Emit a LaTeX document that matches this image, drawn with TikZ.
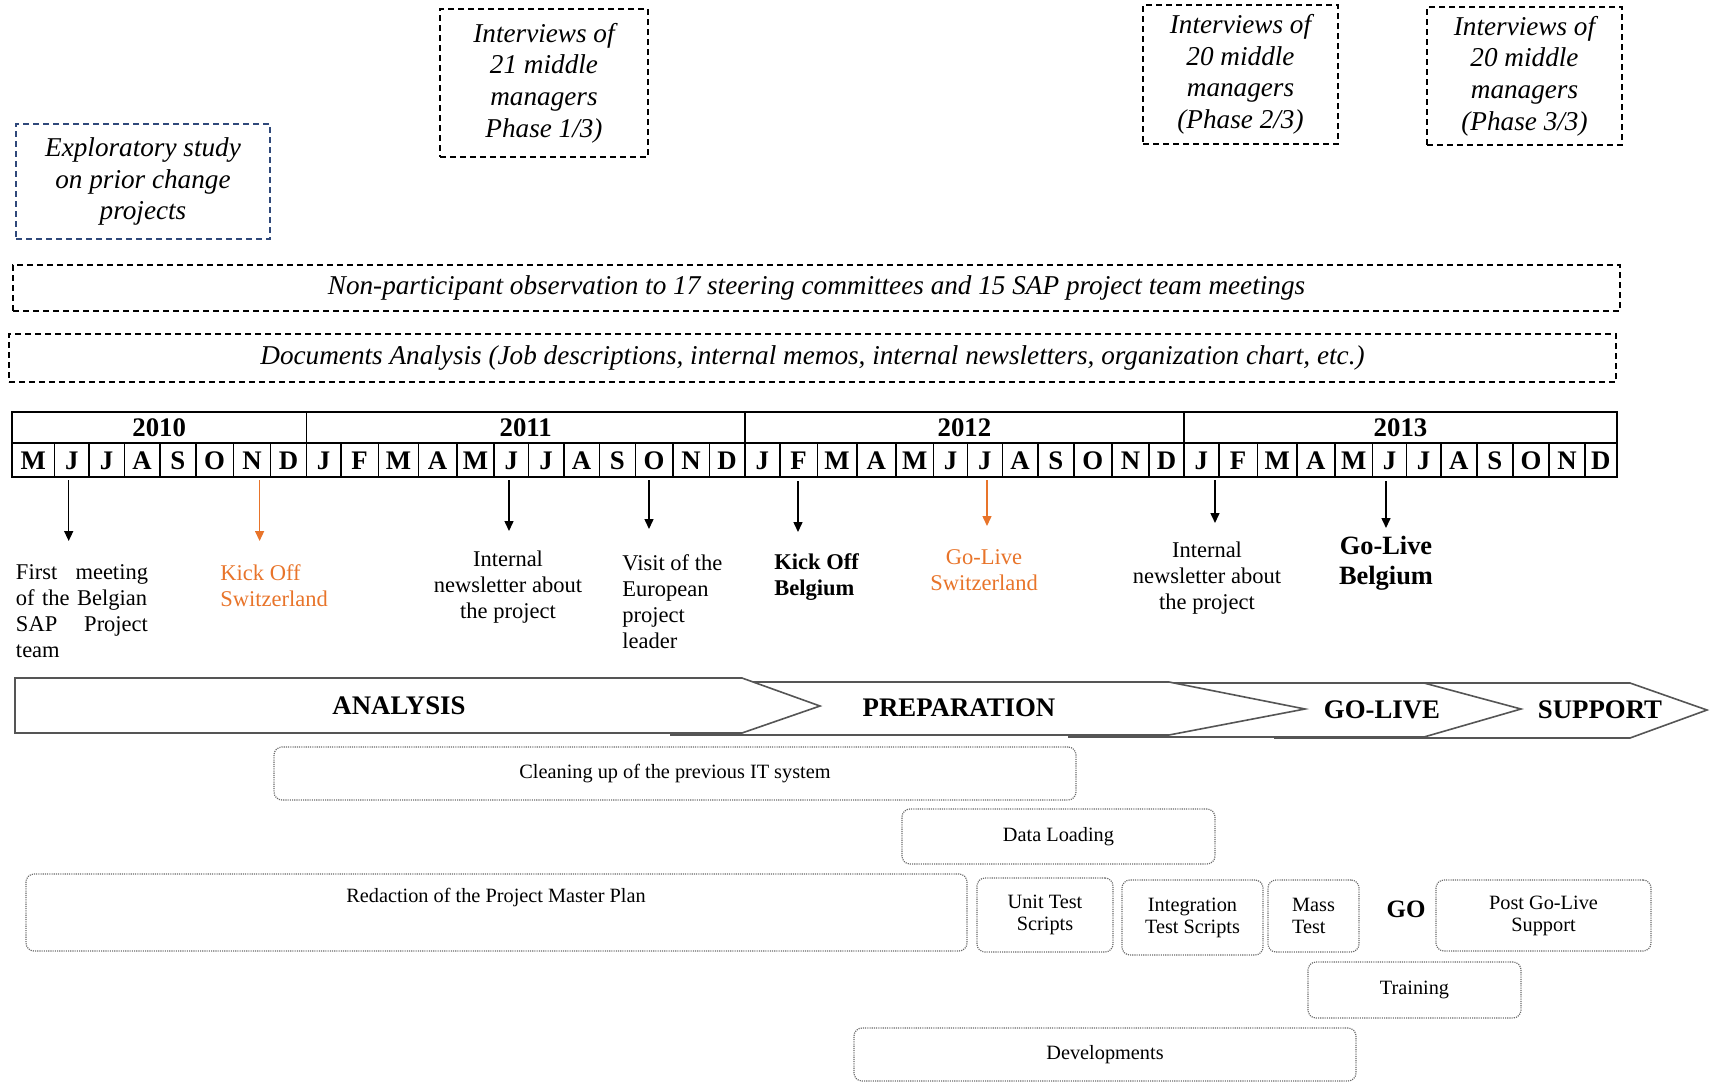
\documentclass[tikz,border=0pt]{standalone}
\usepackage{fontspec}
\setmainfont{Liberation Serif}
\usetikzlibrary{arrows.meta}
\definecolor{orng}{RGB}{232,116,42}
\definecolor{dblue}{RGB}{47,72,122}
\definecolor{dotgray}{RGB}{105,105,105}
\definecolor{phasegray}{RGB}{85,85,85}
\begin{document}
\begin{tikzpicture}[x=0.5pt,y=-0.5pt,
  topbox/.style={draw, dash pattern=on 3pt off 2pt, line width=0.65pt, align=center, inner sep=0pt, font=\fontsize{13.6}{15.8}\selectfont\itshape},
  tab/.style={line width=0.8pt},
  yeartxt/.style={inner sep=0pt, font=\fontsize{13.4}{15}\selectfont\bfseries},
  monthtxt/.style={inner sep=0pt, font=\fontsize{13.4}{15}\selectfont\bfseries},
  arr/.style={line width=0.75pt, -{Triangle[length=5pt,width=4.5pt]}},
  lbl/.style={inner sep=0pt, font=\fontsize{11.25}{13}\selectfont},
  phase/.style={draw=phasegray, fill=white, line width=0.8pt, line join=miter},
  phasetxt/.style={inner sep=0pt, font=\fontsize{13.4}{15}\selectfont\bfseries},
  lowbox/.style={draw=dotgray, dash pattern=on 0.55pt off 0.55pt, line width=0.6pt, rounded corners=4pt, align=center, inner sep=0pt, font=\fontsize{10.15}{11}\selectfont}
]
\useasboundingbox (0,0) rectangle (1710,1082);

% ---------- top boxes ----------
\node[topbox, draw=dblue, minimum width=127pt, minimum height=57.5pt] (explo) at (143,181.5)
  {Exploratory study\\on prior change\\projects};
\node[topbox, minimum width=104pt, minimum height=74pt] (int1) at (544,83)
  {Interviews of\\21 middle\\managers\\Phase 1/3)};
\node[topbox, minimum width=97.5pt, minimum height=69.5pt] (int2) at (1240.5,74.5)
  {Interviews of\\20 middle\\managers\\(Phase 2/3)};
\node[topbox, minimum width=97.5pt, minimum height=69pt] (int3) at (1524.5,76)
  {Interviews of\\20 middle\\managers\\(Phase 3/3)};

% ---------- bands ----------
\node[topbox, minimum width=803.5pt, minimum height=23pt] (obs) at (816.5,288)
  {Non-participant observation to 17 steering committees and 15 SAP project team meetings};
\node[topbox, minimum width=803.5pt, minimum height=24pt] (docs) at (812.5,358)
  {Documents Analysis (Job descriptions, internal memos, internal newsletters, organization chart, etc.)};

% ---------- timeline table ----------
\draw[tab] (12,412) rectangle (1617,477);
\draw[tab] (12,443) -- (1617,443);
\foreach \xx in {306.5,744.9,1183.9} \draw[tab] (\xx,412) -- (\xx,443);
\node[yeartxt] (y2010) at (159.25,428) {2010};
\node[yeartxt] (y2011) at (525.7,428) {2011};
\node[yeartxt] (y2012) at (964.4,428) {2012};
\node[yeartxt] (y2013) at (1400.5,428) {2013};
\foreach \l/\a/\b [count=\i] in {M/12/54.6, J/54.6/88.9, J/88.9/124.4, A/124.4/159.8, S/159.8/195.8, O/195.8/233.4, N/233.4/270.5, D/270.5/306.5,
J/306.5/340.8, F/340.8/378.5, M/378.5/418.3, A/418.3/457.0, M/457.0/494.1, J/494.1/528.4, J/528.4/563.9, A/563.9/599.3, S/599.3/635.3, O/635.3/672.9, N/672.9/709.4, D/709.4/744.9,
J/744.9/779.8, F/779.8/817.4, M/817.4/856.7, A/856.7/896.0, M/896.0/933.6, J/933.6/967.4, J/967.4/1002.3, A/1002.3/1037.7, S/1037.7/1073.7, O/1073.7/1111.9, N/1111.9/1149.0, D/1149.0/1183.9,
J/1183.9/1218.8, F/1218.8/1257.5, M/1257.5/1296.8, A/1296.8/1334.9, M/1334.9/1372.5, J/1372.5/1406.4, J/1406.4/1440.7, A/1440.7/1476.7, S/1476.7/1512.7, O/1512.7/1549.2, N/1549.2/1584.7, D/1584.7/1617}
{
  \draw[tab] (\a,443) -- (\a,477);
  \node[monthtxt] (m\i) at ({(\a+\b)/2},460.5) {\l};
}

% ---------- event arrows ----------
\coordinate (a1s) at (68.7,480);  \coordinate (a1e) at (68.7,541);
\coordinate (a2s) at (259.6,480); \coordinate (a2e) at (259.6,541);
\coordinate (a3s) at (509,480);   \coordinate (a3e) at (509,531);
\coordinate (a4s) at (649,480);   \coordinate (a4e) at (649,529);
\coordinate (a5s) at (798,481);   \coordinate (a5e) at (798,532);
\coordinate (a6s) at (987,480);   \coordinate (a6e) at (987,526);
\coordinate (a7s) at (1215,480);  \coordinate (a7e) at (1215,523);
\coordinate (a8s) at (1386,481);  \coordinate (a8e) at (1386,528);
\draw[arr] (a1s) -- (a1e);
\draw[arr, orng] (a2s) -- (a2e);
\draw[arr] (a3s) -- (a3e);
\draw[arr] (a4s) -- (a4e);
\draw[arr] (a5s) -- (a5e);
\draw[arr, orng] (a6s) -- (a6e);
\draw[arr] (a7s) -- (a7e);
\draw[arr] (a8s) -- (a8e);

% ---------- event labels ----------
\node[lbl, text width=66pt, align=left] (e1) at (82,611)
  {First\hfill meeting\\\mbox{of the Belgian}\\SAP\hfill Project\\team};
\node[lbl, text=orng, anchor=west, align=left] (e2) at (220,585.5) {Kick Off\\Switzerland};
\node[lbl, align=center] (e3) at (508,587.5) {Internal\\newsletter about\\the project};
\node[lbl, anchor=west, align=left] (e4) at (622,602) {Visit of the\\European\\project\\leader};
\node[lbl, font=\fontsize{11.25}{13}\selectfont\bfseries, anchor=west, align=left] (e5) at (774,577) {Kick Off\\Belgium};
\node[lbl, text=orng, align=center] (e6) at (984,570) {Go-Live\\Switzerland};
\node[lbl, align=center] (e7) at (1207,578) {Internal\\newsletter about\\the project};
\node[lbl, font=\fontsize{13.2}{15.25}\selectfont\bfseries, align=center] (e8) at (1386,563) {Go-Live\\Belgium};

% ---------- phases ----------
\draw[phase] (1275,683) -- (1630,683) -- (1707,710) -- (1630,738) -- (1275,738) -- cycle;
\draw[phase] (1069,683) -- (1424,683) -- (1521,709) -- (1424,737) -- (1069,737) -- cycle;
\draw[phase] (671,682) -- (1169,682) -- (1305,709) -- (1169,735) -- (671,735) -- cycle;
\draw[phase] (15,678) -- (742,678) -- (820,706) -- (742,733) -- (15,733) -- cycle;
\node[phasetxt] (pa) at (399,706) {ANALYSIS};
\node[phasetxt] (pp) at (959,708) {PREPARATION};
\node[phasetxt] (pg) at (1382,710) {GO-LIVE};
\node[phasetxt] (ps) at (1600,710) {SUPPORT};

% ---------- activity boxes ----------
\node[lowbox, minimum width=401pt, minimum height=26.5pt] (clean) at (675,773.5) {Cleaning up of the previous IT system};
\node[lowbox, minimum width=156.5pt, minimum height=27.5pt] (load) at (1058.5,836.5) {Data Loading};
\node[lowbox, minimum width=470.5pt, minimum height=38.5pt] (plan) at (496.5,912.5) {};
\node[lbl, font=\fontsize{10.15}{11}\selectfont] (plant) at (496,898) {Redaction of the Project Master Plan};
\node[lowbox, minimum width=68pt, minimum height=37pt] (unit) at (1045,915) {Unit Test\\Scripts};
\node[lowbox, minimum width=70.5pt, minimum height=37.5pt] (integ) at (1192.5,917.5) {Integration\\Test Scripts};
\node[lowbox, minimum width=45.5pt, minimum height=36pt, align=left] (mass) at (1313.5,916) {Mass\\Test};
\node[phasetxt, font=\fontsize{12.5}{14}\selectfont\bfseries] (go) at (1406,909) {GO};
\node[lowbox, minimum width=107.5pt, minimum height=35.5pt] (post) at (1543.5,915.5) {Post Go-Live\\Support};
\node[lowbox, minimum width=106.5pt, minimum height=28pt] (train) at (1414.5,990) {Training};
\node[lowbox, minimum width=251pt, minimum height=26.5pt] (dev) at (1105,1054.5) {Developments};
\end{tikzpicture}
\end{document}
